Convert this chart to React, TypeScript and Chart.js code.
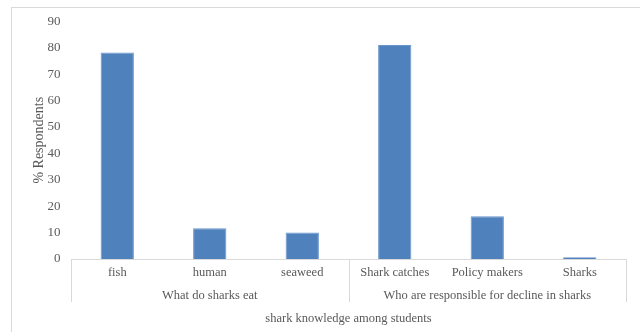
import React, { useEffect, useRef } from "react";
import { Chart, registerables } from "chart.js";

Chart.register(...registerables);

const categories = ["fish", "human", "seaweed", "Shark catches", "Policy makers", "Sharks"];
const groups = ["What do sharks eat", "Who are responsible for decline in sharks"];
const groupSizes = [3, 3];
const respondents = [78.3, 11.7, 10.0, 81.1, 16.2, 0.7];
const yTicksMax = 90;
const yTickStep = 10;

const FONT = "'Liberation Serif', 'Times New Roman', serif";
const TEXT = "#595959";
const LINE = "#d9d9d9";

// Outer frame and the multi-level category box under the x axis.
const framePlugin = {
  id: "frame",
  beforeDraw(chart: any) {
    const { ctx } = chart;
    ctx.save();
    ctx.strokeStyle = LINE;
    ctx.lineWidth = 1;
    ctx.strokeRect(11.5, 7.5, chart.width + 10, chart.height + 10);
    ctx.restore();
  },
  afterDraw(chart: any) {
    const { ctx } = chart;
    const x = chart.scales.x;
    const x2 = chart.scales.x2;
    const top = x.top;
    const bottom = x2.top + 22;
    const bounds: number[] = [x.left];
    let idx = 0;
    groupSizes.forEach((n) => {
      idx += n;
      if (idx < categories.length) {
        bounds.push((x.getPixelForValue(idx - 1) + x.getPixelForValue(idx)) / 2);
      }
    });
    bounds.push(x.right);
    ctx.save();
    ctx.strokeStyle = LINE;
    ctx.lineWidth = 1;
    bounds.forEach((bx) => {
      const px = Math.round(bx) + 0.5;
      ctx.beginPath();
      ctx.moveTo(px, top);
      ctx.lineTo(px, bottom);
      ctx.stroke();
    });
    ctx.restore();
  },
};

export default function App() {
  const ref = useRef<HTMLCanvasElement>(null);

  useEffect(() => {
    if (!ref.current) return;
    const chart = new Chart(ref.current, {
      type: "bar",
      data: {
        labels: categories,
        datasets: [
          {
            data: respondents,
            backgroundColor: "#4f81bd",
            borderColor: "#6a96cc",
            borderWidth: 1,
            barPercentage: 0.36,
            categoryPercentage: 1,
            xAxisID: "x",
          },
        ],
      },
      plugins: [framePlugin],
      options: {
        animation: false,
        responsive: false,
        layout: { padding: { top: 21.5, right: 14, left: 32, bottom: 6 } },
        plugins: { legend: { display: false }, tooltip: { enabled: false } },
        scales: {
          x: {
            type: "category",
            position: "bottom",
            grid: { display: false, drawTicks: false },
            border: { display: true, color: LINE },
            ticks: { color: TEXT, font: { family: FONT, size: 12.5 }, padding: 6, maxRotation: 0, autoSkip: false },
            afterFit: (scale: any) => {
              scale.height = 21;
            },
          },
          x2: {
            type: "category",
            position: "bottom",
            labels: groups,
            offset: true,
            grid: { display: false, drawTicks: false },
            border: { display: false },
            ticks: { color: TEXT, font: { family: FONT, size: 12.5 }, padding: 8, maxRotation: 0, autoSkip: false },
            title: {
              display: true,
              text: "shark knowledge among students",
              color: TEXT,
              font: { family: FONT, size: 12.5 },
              padding: { top: 0, bottom: 0 },
            },
            afterFit: (scale: any) => {
              scale.height = 46;
            },
          },
          y: {
            min: 0,
            max: yTicksMax,
            grid: { display: false, drawTicks: false },
            border: { display: false },
            ticks: { stepSize: yTickStep, color: TEXT, font: { family: FONT, size: 13 }, padding: 10.5 },
            title: {
              display: true,
              text: "% Respondents",
              color: TEXT,
              font: { family: FONT, size: 14, lineHeight: 1 },
              padding: 0,
            },
            afterFit: (scale: any) => {
              scale.width = 39;
            },
          },
        },
      },
    });
    return () => chart.destroy();
  }, []);

  return (
    <div style={{ position: "absolute", left: 0, top: 0, width: 640, height: 332 }}>
      <canvas ref={ref} width={640} height={332} />
    </div>
  );
}
